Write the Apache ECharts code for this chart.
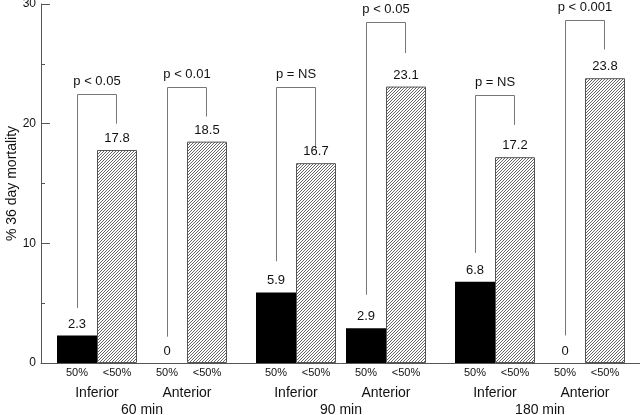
<!DOCTYPE html>
<html>
<head>
<meta charset="utf-8">
<script src="https://cdn.jsdelivr.net/npm/echarts@6/dist/echarts.min.js"></script>
<style>html,body{margin:0;padding:0;background:#fff}#c{width:640px;height:415px}</style>
</head>
<body>
<div id="c"></div>
<script>
// ---- data ----
const groups = ['60 min', '90 min', '180 min'];
const sites = ['Inferior', 'Anterior'];
const subLabels = ['50%', '<50%'];
const mort50 = [2.3, 0, 5.9, 2.9, 6.8, 0];
const mortLt50 = [17.8, 18.5, 16.7, 23.1, 17.2, 23.8];
const pText = ['p < 0.05', 'p < 0.01', 'p = NS', 'p < 0.05', 'p = NS', 'p < 0.001'];
const bracketTop = [22.5, 23.1, 23.1, 28.5, 22.4, 28.7];
const bracketLeftEnd = [4.6, 2.2, 8.5, 5.7, 9.2, 2.3];
const bracketRightEnd = [20.0, 20.6, 17.9, 25.9, 19.9, 26.2];
const yMin = 0, yMax = 30, yStep = 10;

// ---- styles / layout ----
const FONT = 'Liberation Sans, Arial, Helvetica, sans-serif';
const TXT = '#111';
const AX = '#555';
const TOP = 4, BOTTOM = 52;
const gridLefts = [52, 251, 450];
const gridWidth = 180;
const BAR_W = 40;

function hatch() {
  const s = 3;
  const c = document.createElement('canvas');
  c.width = s; c.height = s;
  const g = c.getContext('2d');
  g.fillStyle = '#fff'; g.fillRect(0, 0, s, s);
  g.strokeStyle = '#666'; g.lineWidth = 1;
  g.beginPath();
  g.moveTo(0, s); g.lineTo(s, 0);
  g.moveTo(-1, 1); g.lineTo(1, -1);
  g.moveTo(s - 1, s + 1); g.lineTo(s + 1, s - 1);
  g.stroke();
  return c;
}
const hatchImg = hatch();

const grids = [{left: 41, right: 0, top: TOP, bottom: BOTTOM, outerBoundsMode: 'none', containLabel: false}];
const xAxes = [{
  gridIndex: 0, type: 'value', min: 0, max: 1,
  axisLine: {show: true, lineStyle: {color: AX, width: 1}},
  axisTick: {show: false}, axisLabel: {show: false}, splitLine: {show: false}
}];
const yAxes = [{
  gridIndex: 0, type: 'value', min: yMin, max: yMax, interval: yStep,
  name: '% 36 day mortality', nameLocation: 'middle', nameGap: 22, nameMoveOverlap: false,
  nameTextStyle: {fontFamily: FONT, fontSize: 14, color: TXT},
  axisLine: {show: true, lineStyle: {color: AX, width: 1}},
  axisTick: {show: true, inside: true, length: 9, lineStyle: {color: AX}},
  minorTick: {show: true, splitNumber: 2, length: 4, lineStyle: {color: AX}},
  axisLabel: {fontFamily: FONT, fontSize: 12, color: TXT, margin: 5},
  splitLine: {show: false}
}];
const series = [];

groups.forEach((gName, g) => {
  const gi = g + 1;
  grids.push({left: gridLefts[g], width: gridWidth, top: TOP, bottom: BOTTOM, outerBoundsMode: 'none', containLabel: false});
  xAxes.push({
    gridIndex: gi, type: 'category', data: sites,
    name: gName, nameLocation: 'middle', nameGap: 40, nameMoveOverlap: false,
    nameTextStyle: {fontFamily: FONT, fontSize: 14, color: TXT},
    axisLine: {show: false}, axisTick: {show: false}, splitLine: {show: false},
    axisLabel: {
      interval: 0, margin: 0,
      formatter: v => `{a|${subLabels[0]}}{a|${subLabels[1]}}\n{c|${v}}`,
      rich: {
        a: {width: BAR_W, align: 'center', fontFamily: FONT, fontSize: 11, color: TXT, lineHeight: 20},
        c: {width: BAR_W * 2, align: 'center', fontFamily: FONT, fontSize: 14, color: TXT, lineHeight: 20}
      }
    }
  });
  yAxes.push({gridIndex: gi, type: 'value', min: yMin, max: yMax, show: false});

  const idx = [g * 2, g * 2 + 1];
  const lbl = {show: true, position: 'top', distance: 5, fontFamily: FONT, fontSize: 13, color: TXT};
  series.push({
    type: 'bar', xAxisIndex: gi, yAxisIndex: gi, barWidth: BAR_W, barGap: 0,
    data: idx.map(i => mort50[i]),
    itemStyle: {color: '#000'}, label: lbl
  });
  series.push({
    type: 'bar', xAxisIndex: gi, yAxisIndex: gi, barWidth: BAR_W, barGap: 0,
    data: idx.map(i => mortLt50[i]),
    itemStyle: {color: {image: hatchImg, repeat: 'repeat'}, borderColor: '#555', borderWidth: 1},
    label: lbl
  });
  series.push({
    type: 'custom', xAxisIndex: gi, yAxisIndex: gi,
    data: idx.map((i, k) => [k, bracketTop[i], bracketLeftEnd[i], bracketRightEnd[i], i]),
    renderItem: (params, api) => {
      const k = api.value(0);
      const c = api.coord([k, api.value(1)]);
      const yl = api.coord([k, api.value(2)])[1];
      const yr = api.coord([k, api.value(3)])[1];
      const xl = Math.round(c[0] - BAR_W / 2) + 0.5;
      const xr = Math.round(c[0] + BAR_W / 2) - 0.5;
      const yt = Math.round(c[1]) + 0.5;
      return {
        type: 'group',
        children: [
          {type: 'polyline', shape: {points: [[xl, yl], [xl, yt], [xr, yt], [xr, yr]]},
           style: {stroke: '#777', lineWidth: 1, fill: null}},
          {type: 'text', x: c[0], y: yt - 13,
           style: {text: pText[api.value(4)], align: 'center', verticalAlign: 'middle',
                   font: '13px ' + FONT, fill: TXT}}
        ]
      };
    }
  });
});

const chart = echarts.init(document.getElementById('c'), null, {renderer: 'canvas'});
chart.setOption({
  animation: false,
  backgroundColor: '#fff',
  grid: grids, xAxis: xAxes, yAxis: yAxes, series: series
});
</script>
</body>
</html>
